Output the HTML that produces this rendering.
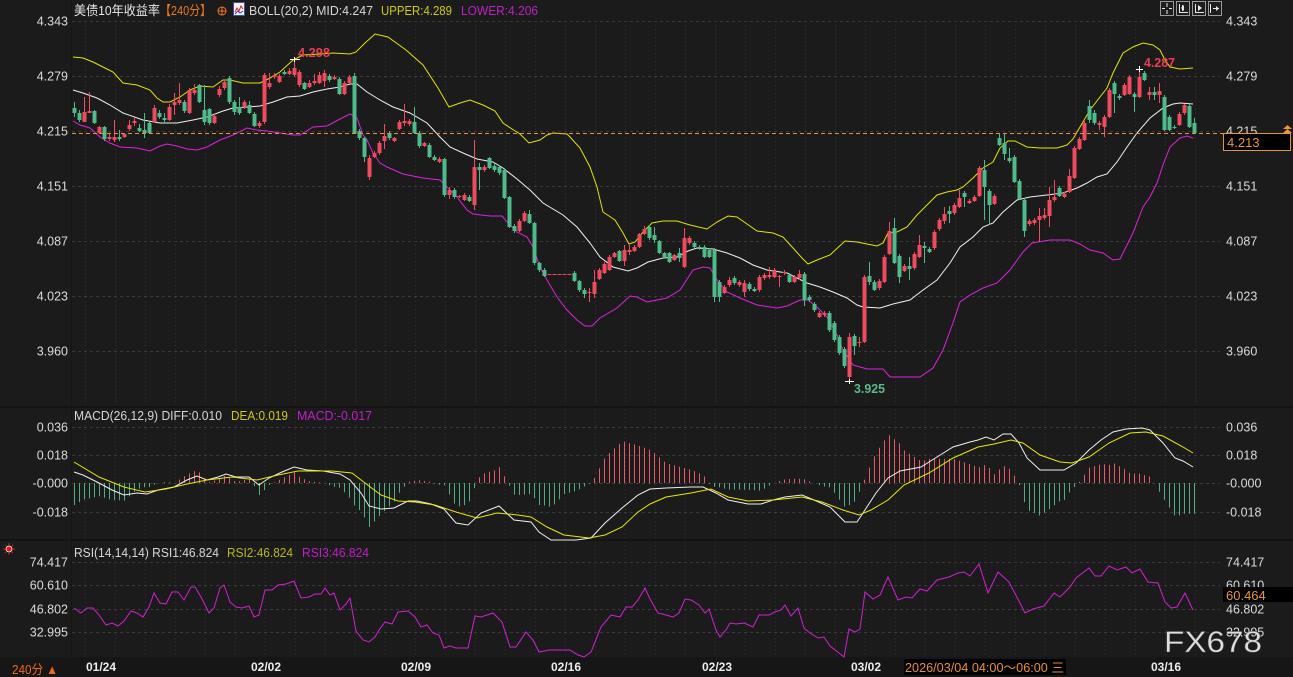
<!DOCTYPE html>
<html><head><meta charset="utf-8">
<style>
html,body{margin:0;padding:0;background:#1b1b1b;width:1293px;height:677px;overflow:hidden}
svg{display:block}
text{font-family:"Liberation Sans","Noto Sans CJK SC",sans-serif}
</style></head><body>
<svg id="s" width="1293" height="677" viewBox="0 0 1293 677" xmlns="http://www.w3.org/2000/svg">
<rect width="1293" height="677" fill="#1b1b1b"/>
<rect y="657" width="1293" height="20" fill="#161616"/>
<rect x="0" y="406" width="1293" height="2" fill="#141414"/>
<rect x="0" y="539" width="1293" height="2" fill="#141414"/>
<line x1="71.5" y1="0" x2="71.5" y2="657" stroke="#161616" stroke-width="1"/>
<g id="grid"></g>
<g id="plot"></g>

<!-- orange current price dashed line -->
<line x1="72" y1="133.5" x2="1223" y2="133.5" stroke="#e8943a" stroke-width="1" stroke-dasharray="4,3"/>

<!-- top title -->
<g font-size="13">
<text x="74" y="15" fill="#e6e6e6" textLength="86" lengthAdjust="spacingAndGlyphs">美债10年收益率</text>
<text x="160" y="15" fill="#f07a1a" textLength="51" lengthAdjust="spacingAndGlyphs">【240分】</text>
<text x="249" y="15" fill="#d6d6d6" textLength="124" lengthAdjust="spacingAndGlyphs">BOLL(20,2) MID:4.247</text>
<text x="381" y="15" fill="#cccc10" textLength="71" lengthAdjust="spacingAndGlyphs">UPPER:4.289</text>
<text x="461" y="15" fill="#c020c8" textLength="77" lengthAdjust="spacingAndGlyphs">LOWER:4.206</text>
</g>
<circle cx="222" cy="11" r="4" fill="none" stroke="#f07a1a" stroke-width="1"/>
<line x1="218" y1="11" x2="226" y2="11" stroke="#f07a1a"/><line x1="222" y1="7" x2="222" y2="15" stroke="#f07a1a"/>
<rect x="233.5" y="2.5" width="11" height="13" fill="#f4f4f4" stroke="#4050a0"/>
<polyline points="235,12 237,8 239,11 241,6 243,9" fill="none" stroke="#e02020" stroke-width="1"/>
<polyline points="235,14 238,11 240,13 243,11" fill="none" stroke="#2040d0" stroke-width="1"/>

<!-- top-right buttons -->
<g fill="#1e1e1e" stroke="#9a9a9a" stroke-width="1">
<rect x="1160.5" y="1.5" width="13" height="14"/>
<rect x="1176.5" y="1.5" width="13" height="14"/>
<rect x="1192.5" y="1.5" width="13" height="14"/>
<rect x="1208.5" y="1.5" width="13" height="14"/>
</g>
<g stroke="#e8e8e8" stroke-width="1" fill="none">
<line x1="1167" y1="3" x2="1167" y2="7"/><line x1="1167" y1="10" x2="1167" y2="14"/><line x1="1162" y1="8.5" x2="1165" y2="8.5"/><line x1="1169" y1="8.5" x2="1172" y2="8.5"/>
<line x1="1179.5" y1="4" x2="1179.5" y2="13"/><line x1="1179" y1="12.5" x2="1188" y2="12.5"/><line x1="1182.5" y1="5" x2="1182.5" y2="11"/>
<line x1="1195.5" y1="4" x2="1195.5" y2="13"/><line x1="1195" y1="12.5" x2="1204" y2="12.5"/>
<line x1="1210.5" y1="4" x2="1210.5" y2="13"/><line x1="1213" y1="8.5" x2="1219" y2="8.5"/>
</g>
<polygon points="1184,5 1184,11 1181,8" fill="#e8e8e8"/>
<polygon points="1198,5 1198,11 1202,8" fill="#e8e8e8"/>
<polygon points="1216,6 1216,11 1219,8.5" fill="#e8e8e8"/>

<!-- axis labels -->
<g font-size="12.5" fill="#dadada" text-anchor="end">
<text x="68" y="25.5">4.343</text><text x="68" y="80.5">4.279</text><text x="68" y="135.5">4.215</text><text x="68" y="190.5">4.151</text><text x="68" y="245.5">4.087</text><text x="68" y="300.5">4.023</text><text x="68" y="355.5">3.960</text>
<text x="68" y="431.5">0.036</text><text x="68" y="459.5">0.018</text><text x="68" y="487.5">-0.000</text><text x="68" y="516.5">-0.018</text>
<text x="68" y="566.5">74.417</text><text x="68" y="589.5">60.610</text><text x="68" y="613.5">46.802</text><text x="68" y="636.5">32.995</text>
</g>
<g font-size="12.5" fill="#dadada">
<text x="1226" y="25.5">4.343</text><text x="1226" y="80.5">4.279</text><text x="1226" y="135.5">4.215</text><text x="1226" y="190.5">4.151</text><text x="1226" y="245.5">4.087</text><text x="1226" y="300.5">4.023</text><text x="1226" y="355.5">3.960</text>
<text x="1226" y="431.5">0.036</text><text x="1226" y="459.5">0.018</text><text x="1226" y="487.5">-0.000</text><text x="1226" y="516.5">-0.018</text>
<text x="1226" y="566.5">74.417</text><text x="1226" y="589.5">60.610</text><text x="1226" y="613.5">46.802</text><text x="1226" y="636.5">32.995</text>
</g>

<!-- current price box -->
<rect x="1223.5" y="133.5" width="67" height="17" fill="#000" stroke="#e8943a"/>
<text x="1227" y="147" font-size="13" fill="#e8943a">4.213</text>
<polygon points="1283,129 1287.5,125 1292,129" fill="#e8943a"/>
<polygon points="1283,133 1287.5,129 1292,133" fill="#e8943a"/>

<!-- RSI value box -->
<rect x="1223" y="587" width="70" height="15" fill="#000"/>
<text x="1226" y="600" font-size="13" fill="#e8943a">60.464</text>

<!-- MACD / RSI titles -->
<g font-size="12.5">
<text x="74" y="420" fill="#d6d6d6" textLength="148" lengthAdjust="spacingAndGlyphs">MACD(26,12,9) DIFF:0.010</text>
<text x="231" y="420" fill="#cccc10" textLength="57" lengthAdjust="spacingAndGlyphs">DEA:0.019</text>
<text x="297" y="420" fill="#c020c8" textLength="75" lengthAdjust="spacingAndGlyphs">MACD:-0.017</text>
<text x="74" y="557" fill="#d6d6d6" textLength="145" lengthAdjust="spacingAndGlyphs">RSI(14,14,14) RSI1:46.824</text>
<text x="227" y="557" fill="#b8b820" textLength="66" lengthAdjust="spacingAndGlyphs">RSI2:46.824</text>
<text x="302" y="557" fill="#c020c8" textLength="67" lengthAdjust="spacingAndGlyphs">RSI3:46.824</text>
</g>

<!-- red sun icon -->
<g stroke="#e02020" stroke-width="1">
<line x1="3" y1="549" x2="5" y2="549"/><line x1="13" y1="549" x2="15" y2="549"/>
<line x1="9" y1="543" x2="9" y2="545"/><line x1="9" y1="553" x2="9" y2="555"/>
<line x1="5" y1="545" x2="6" y2="546"/><line x1="12" y1="552" x2="13" y2="553"/>
<line x1="13" y1="545" x2="12" y2="546"/><line x1="5" y1="553" x2="6" y2="552"/>
</g>
<circle cx="9" cy="549" r="3" fill="#f01010" stroke="#fff" stroke-width="0.8"/>

<!-- peak labels -->
<g font-size="13" font-weight="bold">
<text x="298" y="57" fill="#e84050" textLength="32" lengthAdjust="spacingAndGlyphs">4.298</text>
<text x="1144" y="67" fill="#e84050" textLength="31" lengthAdjust="spacingAndGlyphs">4.287</text>
<text x="854" y="393" fill="#5cb88a" textLength="31" lengthAdjust="spacingAndGlyphs">3.925</text>
</g>
<g stroke="#ffffff" stroke-width="1">
<line x1="290" y1="59.5" x2="300" y2="59.5"/><line x1="294.5" y1="57" x2="294.5" y2="62"/>
<line x1="1136" y1="69.5" x2="1143" y2="69.5"/><line x1="1139.5" y1="66" x2="1139.5" y2="72"/>
<line x1="845" y1="381.5" x2="854" y2="381.5"/><line x1="849.5" y1="379" x2="849.5" y2="384"/>
</g>

<!-- bottom date axis -->
<g font-size="12" font-weight="bold" fill="#ececec" text-anchor="middle">
<text x="101" y="671">01/24</text><text x="266" y="671">02/02</text><text x="416" y="671">02/09</text><text x="566" y="671">02/16</text><text x="717" y="671">02/23</text><text x="866" y="671">03/02</text><text x="1166" y="671">03/16</text>
</g>
<text x="12" y="674" font-size="13" fill="#f06a10" textLength="46" lengthAdjust="spacingAndGlyphs">240分 ▲</text>
<rect x="904" y="659" width="162" height="16" fill="#000"/>
<text x="905" y="672" font-size="12.5" fill="#e8902a" textLength="159" lengthAdjust="spacingAndGlyphs">2026/03/04 04:00～06:00 三</text>

<!-- watermark -->
<text x="1164" y="652" font-size="30" fill="#dedede" stroke="#555" stroke-width="0.4" textLength="98" lengthAdjust="spacingAndGlyphs">FX678</text>
</svg>
<script>
(function(){
function P(s){return s.trim().split(/\s+/).map(function(p){return p.split(',').map(Number);});}
function interp(a,x){if(x<=a[0][0])return a[0][1];for(var i=1;i<a.length;i++){if(x<=a[i][0]){var x0=a[i-1][0],y0=a[i-1][1],x1=a[i][0],y1=a[i][1];return y0+(y1-y0)*(x-x0)/(x1-x0);}}return a[a.length-1][1];}
var g='';
// horizontal dashed grid
[21,76,131,186,241,296,351,427,455,483,512,562,585,609,632].forEach(function(y){
 g+='<line x1="72" y1="'+(y+.5)+'" x2="1220" y2="'+(y+.5)+'" stroke="#3a3a3a" stroke-width="1" stroke-dasharray="3,3"/>';
});
for(var x=85;x<=1195;x+=30){
 g+='<line x1="'+(x+.5)+'" y1="21" x2="'+(x+.5)+'" y2="405" stroke="#333" stroke-width="1" stroke-dasharray="1,3"/>';
 g+='<line x1="'+(x+.5)+'" y1="409" x2="'+(x+.5)+'" y2="538" stroke="#303030" stroke-width="1" stroke-dasharray="1,3"/>';
 g+='<line x1="'+(x+.5)+'" y1="542" x2="'+(x+.5)+'" y2="656" stroke="#303030" stroke-width="1" stroke-dasharray="1,3"/>';
}
document.getElementById('grid').innerHTML=g;

var UP="73,57 83,58 93,62 103,67 113,72 123,83 137,85 150,90 157,98 163,102 170,102 180,97 190,90 200,86 213,87 223,80 230,80 243,83 260,83 270,78 280,72 293,60 303,55 320,54 333,53 350,54 356,52 365,43 375,34 388,37 406,50 423,65 438,88 449,107 460,103 470,100 483,105 495,111 503,123 512,129 520,134 529,143 540,140 547,135 553,133 567,134 570,137 580,148 590,167 597,187 603,212 615,220 623,233 629,244 635,242 643,232 652,223 663,221 677,221 690,225 707,229 717,222 728,216 737,217 747,224 757,231 773,233 783,237 793,248 802,258 808,264 817,260 830,255 845,241 857,242 867,244 877,246 883,243 888,233 897,232 907,227 917,215 927,205 937,195 947,192 957,190 963,187 973,178 983,168 993,162 1000,148 1008,141 1015,141 1027,147 1040,148 1057,148 1067,145 1073,139 1080,127 1090,110 1100,97 1107,88 1113,73 1123,53 1133,47 1143,43 1153,45 1160,50 1165,60 1170,67 1180,69 1193,68";
var MID="73,90 83,93 97,98 110,105 123,113 143,120 160,123 177,123 193,120 207,117 223,111 233,108 247,107 260,106 273,102 287,97 300,96 313,92 327,89 340,87 350,84 357,84 367,92 380,100 393,107 410,113 427,123 440,137 450,147 463,153 477,159 493,162 503,168 517,179 530,190 543,203 563,215 577,227 590,243 600,257 613,267 628,271 637,268 648,262 663,258 677,257 688,251 697,248 713,249 727,253 740,258 753,265 767,270 787,273 807,283 820,287 833,292 847,298 857,305 863,307 880,308 893,304 910,300 923,290 937,280 950,263 960,247 973,237 983,227 993,223 1003,212 1017,200 1030,197 1047,195 1063,193 1077,188 1087,183 1097,177 1107,174 1117,162 1127,147 1137,133 1150,118 1163,108 1173,104 1180,103 1193,104";
var LOW="73,121 80,125 90,128 100,137 110,143 120,147 137,148 150,151 160,146 167,144 177,146 187,149 197,150 207,147 220,140 233,135 247,128 257,130 267,131 280,133 293,135 300,135 313,127 327,126 340,119 350,114 357,118 363,135 367,140 373,153 380,163 387,167 403,174 423,178 440,180 447,187 457,197 467,210 473,214 490,216 502,216 508,223 517,232 527,237 533,247 540,267 547,280 557,297 567,310 577,320 585,326 592,326 600,318 617,308 630,296 637,297 647,302 667,298 680,290 693,270 703,267 710,268 717,280 727,292 740,298 757,305 777,308 787,306 800,300 808,300 817,307 827,317 837,335 843,350 853,365 867,369 883,369 890,377 920,377 933,368 943,350 953,323 960,302 970,295 983,288 997,283 1010,270 1023,252 1032,243 1050,240 1070,240 1080,244 1090,250 1103,253 1113,260 1120,259 1133,233 1143,207 1150,197 1157,183 1163,165 1170,147 1180,138 1187,136 1193,138";
var DIFF="74,472 83,475 99,483 112,490 124,495 137,493 147,494 158,490 174,487 187,480 197,476 207,480 218,477 226,474 236,477 249,477 259,485 269,478 282,472 294,467 307,470 323,471 340,474 350,480 361,493 369,506 381,509 394,508 408,501 417,501 431,504 444,509 456,523 468,525 481,513 499,506 514,520 531,522 539,532 551,540 576,540 591,538 605,523 622,508 638,495 650,489 666,488 691,487 703,487 716,493 728,500 748,504 761,504 773,500 785,497 802,495 814,500 830,507 845,522 857,522 863,513 876,493 888,478 900,471 921,467 937,457 953,447 970,442 978,440 986,437 994,440 1003,434 1011,434 1019,443 1027,458 1040,470 1052,470 1064,470 1076,463 1089,450 1101,440 1113,432 1126,429 1142,428 1150,430 1163,443 1175,458 1183,461 1193,467";
var DEA="74,462 99,477 124,487 145,492 166,489 187,484 207,480 232,477 257,480 278,475 298,471 332,471 352,473 365,483 381,495 398,501 415,502 435,505 456,512 477,518 497,513 518,515 531,517 547,527 564,535 589,538 605,535 622,527 638,512 650,504 666,497 691,493 711,489 728,497 748,501 773,500 802,497 822,502 843,510 859,515 871,510 888,500 904,485 929,473 953,458 978,447 994,444 1011,440 1023,443 1040,455 1060,462 1072,463 1089,457 1109,443 1130,433 1146,432 1163,436 1183,447 1193,453";
var RSI="74,608 81,613 87,608 93,608 99,615 106,625 112,623 118,626 124,621 131,611 137,613 143,617 149,607 154,593 160,603 166,604 172,592 178,592 184,600 191,587 195,587 201,597 209,613 214,608 220,588 224,585 230,602 236,607 242,608 249,606 254,617 259,615 265,590 272,590 278,585 286,584 294,581 301,598 309,597 315,594 321,594 325,588 330,595 334,593 340,610 346,604 350,598 356,631 363,640 369,642 375,637 379,630 385,622 392,624 398,612 408,611 415,617 421,627 427,625 433,633 439,635 444,648 450,646 456,648 468,648 475,616 481,617 493,613 502,622 510,647 516,647 526,632 533,640 539,652 549,650 570,650 578,655 584,657 591,652 601,627 611,615 620,617 626,607 632,607 638,600 645,588 650,599 658,613 666,615 673,617 679,613 685,599 691,600 699,605 705,613 709,609 716,630 720,637 726,630 730,623 736,624 744,623 753,627 759,615 769,615 775,612 781,610 785,605 791,616 798,608 804,628 810,633 818,638 824,637 830,646 839,653 844,657 849,629 855,632 860,629 865,592 873,599 880,595 888,577 898,600 906,597 912,598 920,589 927,591 937,580 949,577 958,573 964,572 970,576 979,564 988,593 998,572 1009,582 1021,605 1025,613 1033,609 1044,606 1054,593 1060,597 1070,587 1076,578 1089,568 1095,576 1101,576 1109,566 1117,570 1126,567 1132,573 1140,569 1148,582 1158,583 1165,602 1171,608 1177,607 1185,593 1193,610";

var C=[
['g',108,113,102,117],['g',113,120,110,122],['r',112,122,97,122],['r',111,113,92,113],['g',111,123,110,124],
['r',127,133,126,134],['g',127,139,126,141],['r',137,139,133,141],['r',137,140,120,142],['g',137,139,130,141],
['r',134,137,133,138],['r',125,129,120,131],['r',121,123,118,126],['g',128,131,124,132],['g',130,133,113,138],
['g',123,133,122,134],['r',108,122,105,123],['g',113,117,110,119],['g',118,120,113,122],['r',107,120,104,121],
['r',102,105,93,115],['r',100,103,83,105],['g',102,111,100,113],['r',90,113,88,114],['r',90,93,84,95],
['g',85,102,84,103],['g',110,122,85,125],['g',109,123,108,125],['r',116,123,114,124],['r',89,95,86,97],
['r',82,88,80,90],['g',78,102,76,104],['g',102,112,100,115],['g',107,113,97,115],['r',102,107,100,109],
['g',105,113,101,114],['g',114,126,112,127],['r',123,126,121,128],['r',75,122,73,124],['r',83,87,73,89],
['r',75,77,73,79],['r',76,82,74,83],['g',72,74,70,75],['r',71,74,68,75],['r',68,75,59,77],
['r',72,85,70,87],['g',83,89,82,90],['r',83,87,80,88],['r',81,83,74,85],['r',75,83,72,84],
['r',73,81,70,87],['g',76,80,74,82],['r',77,79,75,80],['g',79,94,77,95],['r',83,94,81,95],
['r',77,83,75,84],['g',76,134,73,134],['g',131,138,129,140],['g',138,157,137,162],['r',158,177,155,180],
['r',153,157,151,158],['r',143,153,141,155],['r',136,141,124,149],['g',133,138,131,140],['r',138,141,137,142],
['r',122,129,120,130],['r',121,123,104,126],['r',121,124,119,126],['g',122,133,107,134],['g',133,146,131,148],
['r',143,146,142,147],['g',145,157,143,158],['g',157,160,155,161],['r',159,162,157,163],['g',159,195,158,197],
['r',190,195,187,199],['g',190,197,188,199],['r',196,197,195,198],['r',195,200,193,201],['g',197,201,195,202],
['r',167,205,140,210],['g',167,170,163,190],['r',167,170,165,172],['g',158,168,157,169],['g',166,170,162,172],
['g',167,173,165,175],['g',170,198,168,199],['g',197,227,196,228],['g',226,231,224,233],['r',221,231,219,232],
['r',213,221,211,222],['g',214,223,210,224],['g',223,263,222,265],['g',263,270,262,272],['g',270,276,268,277],
['r',274,275,274,275],['r',274,275,274,275],['r',274,275,274,275],['r',274,275,274,275],['r',274,275,274,275],
['g',273,281,271,282],['g',281,290,280,292],['g',290,294,288,298],['r',292,293,288,302],['r',282,294,270,298],
['r',270,279,268,280],['r',264,273,262,274],['r',257,270,255,271],['r',253,257,252,258],['g',251,261,250,262],
['r',250,261,245,266],['r',250,252,245,255],['r',247,251,245,252],['r',234,247,233,248],['r',229,234,226,235],
['g',227,238,225,240],['g',235,240,227,243],['g',241,253,240,254],['g',253,257,252,258],['g',253,262,252,263],
['r',255,260,254,261],['g',253,258,248,262],['r',238,267,228,268],['r',238,243,236,245],['g',243,247,241,248],
['g',247,248,245,250],['g',247,257,245,258],['g',250,257,248,258],['g',250,297,248,302],['g',282,297,280,302],
['r',287,293,285,294],['r',280,285,277,287],['g',278,283,276,285],['r',282,285,280,287],['r',283,292,280,297],
['g',284,289,282,291],['g',289,291,287,292],['r',277,290,275,292],['r',275,278,273,280],['r',275,277,267,279],
['r',270,277,268,278],['r',276,277,275,287],['r',272,273,270,275],['g',275,282,273,283],['r',277,282,275,283],
['r',274,278,270,280],['g',274,300,272,306],['g',297,300,295,302],['g',304,310,302,312],['r',313,317,311,318],
['r',313,315,311,317],['g',313,330,311,332],['g',323,340,321,342],['g',337,353,335,355],['g',349,366,347,368],
['r',337,377,333,382],['g',336,346,334,355],['r',342,343,337,347],['r',277,342,275,343],['g',276,282,262,285],
['g',282,290,280,291],['r',281,288,279,290],['r',257,282,255,283],['r',231,254,222,255],['g',228,263,218,264],
['g',256,277,254,283],['r',266,271,264,272],['g',266,269,257,280],['r',254,268,252,270],['r',245,257,235,258],
['g',246,248,242,263],['g',249,252,247,253],['r',232,248,230,250],['r',220,229,218,231],['r',214,221,207,224],
['g',211,214,206,223],['r',205,213,203,215],['r',198,207,190,208],['g',193,197,191,207],['r',201,203,199,204],
['r',197,201,195,202],['r',168,196,166,197],['g',170,187,160,220],['g',191,205,189,225],['r',196,204,194,205],
['g',138,145,133,146],['g',143,154,133,160],['g',158,161,148,163],['g',157,182,155,183],['g',181,199,179,200],
['g',200,231,198,237],['r',221,224,219,226],['r',220,223,218,225],['r',216,220,208,242],['r',215,218,208,220],
['r',200,216,187,227],['r',197,200,180,202],['g',188,196,186,197],['r',194,197,192,198],['r',176,192,169,193],
['r',148,178,146,179],['r',139,149,137,150],['r',123,140,121,141],['g',106,120,100,123],['g',113,123,110,125],
['r',123,125,121,130],['r',117,127,115,137],['r',90,117,88,118],['g',83,94,81,113],['g',96,98,94,100],
['r',85,95,83,96],['r',77,94,75,95],['g',94,97,92,112],['r',77,97,69,98],['g',73,80,71,81],
['r',92,95,87,100],['g',92,95,87,100],['r',91,95,83,103],['g',97,130,95,131],['g',117,130,115,131],
['g',127,128,125,129],['r',114,125,112,126],['r',105,113,104,115],['g',106,127,104,128],['g',123,133,118,134]
];
var h='';
var RED='#ee4b5c',GRN='#4fba8a';
// MACD histogram
var dA=P(DIFF),eA=P(DEA);
for(var i=0;i<225;i++){var x=74+5*i;var v=2.2*(interp(eA,x)-interp(dA,x));
 if(Math.abs(v)<0.5)continue;
 var col=v>0?'#e85a62':'#4fae82';
 h+='<line x1="'+(x+.5)+'" y1="483" x2="'+(x+.5)+'" y2="'+(483-v).toFixed(1)+'" stroke="'+col+'" stroke-width="1"/>';
}
// bollinger lines
h+='<polyline points="'+UP+'" fill="none" stroke="#e4e400" stroke-width="1"/>';
h+='<polyline points="'+MID+'" fill="none" stroke="#f0f0f0" stroke-width="1"/>';
h+='<polyline points="'+LOW+'" fill="none" stroke="#e020e0" stroke-width="1"/>';
// candles
C.forEach(function(c,i){var x=74+5*i;var col=c[0]=='r'?RED:GRN;
 var t=c[1],b=c[2];if(b-t<1)b=t+1;
 h+='<line x1="'+(x+.5)+'" y1="'+c[3]+'" x2="'+(x+.5)+'" y2="'+c[4]+'" stroke="'+col+'" stroke-width="1"/>';
 h+='<rect x="'+(x-1.5)+'" y="'+t+'" width="4" height="'+(b-t)+'" fill="'+col+'"/>';
});
// MACD lines
h+='<polyline points="'+DIFF+'" fill="none" stroke="#f0f0f0" stroke-width="1"/>';
h+='<polyline points="'+DEA+'" fill="none" stroke="#e8e800" stroke-width="1"/>';
// RSI
h+='<polyline points="'+RSI+'" fill="none" stroke="#d41fd4" stroke-width="1"/>';
document.getElementById('plot').innerHTML=h;
})();
</script>
</body></html>
